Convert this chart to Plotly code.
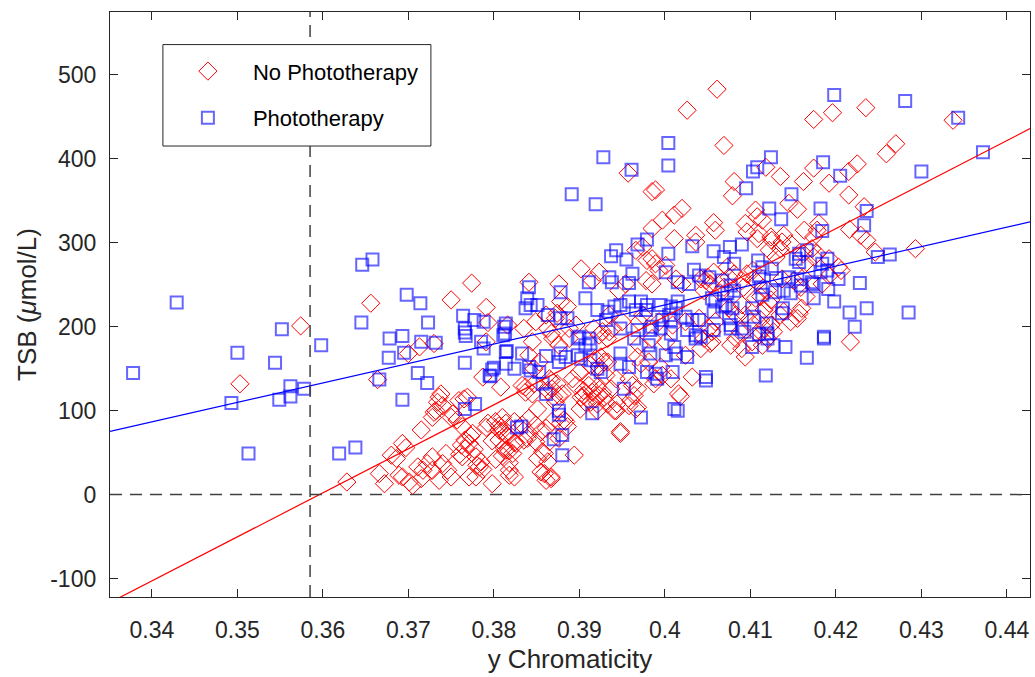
import plotly.graph_objects as go

# ---------------- data ----------------
# No Phototherapy (red diamonds)
x_nopt = [0.3574,0.3503,0.3628,0.3664,0.3656,0.3750,0.3774,0.3791,0.3793,0.3816,0.3700,0.3713,0.3730,0.3787,0.3791,0.3808,
0.3666,0.3672,0.3686,0.3693,0.3697,0.3693,0.3705,0.3715,0.3711,0.3717,0.3722,0.3715,0.3728,0.3732,0.3736,0.3738,0.3728,0.3750,
0.3740,0.3746,0.3750,0.3736,0.3744,0.3728,0.3762,0.3766,0.3771,0.3767,0.3763,0.3775,0.3759,0.3765,0.3769,0.3771,0.3779,0.3785,
0.3783,0.3798,0.3793,0.3802,0.3806,0.3810,0.3814,0.3816,0.3806,0.3814,0.3822,0.3818,0.3734,0.3740,0.3730,0.3752,0.3757,0.3763,
0.3680,0.3689,0.3701,0.3773,0.3777,0.3760,0.3780,0.3787,0.3779,0.3818,0.3791,0.3806,0.3810,0.3814,0.3798,0.3812,0.3818,0.3810,
0.3802,0.3818,0.3824,0.3824,
0.3867,0.3869,0.3845,0.3841,0.3853,0.3847,0.3837,0.3845,0.3833,0.3865,0.3868,0.3876,0.3872,0.3880,0.3851,0.3841,0.3833,0.3849,
0.3855,0.3839,0.3849,0.3861,0.3868,0.3884,0.3865,0.3876,0.3851,0.3859,0.3863,0.3855,0.3867,0.3861,0.3894,0.3892,0.3900,0.3896,
0.3905,0.3907,0.3901,0.3911,0.3915,0.3919,0.3923,0.3913,0.3921,0.3927,0.3913,0.3919,0.3923,0.3931,0.3929,0.3923,0.3927,0.3917,
0.3933,0.3935,0.3939,0.3943,0.3937,0.3943,0.3948,0.3958,0.3966,0.3958,0.3962,0.3968,0.3964,0.3981,0.3989,0.3997,0.4016,0.4024,
0.4032,0.4042,0.4046,0.3935,0.3950,0.3970,0.3974,0.3993,0.4009,0.4024,0.4040,0.3970,0.3985,0.4001,0.3888,0.3896,0.3876,0.3888,
0.3849,0.3861,0.3872,
0.4026,0.3957,0.3985,0.3989,0.4020,0.4011,0.3997,0.3985,0.4011,0.4036,0.4036,0.3974,0.3966,0.3989,0.4001,0.3993,0.3978,0.3985,
0.3902,0.3923,0.3915,0.3954,0.3946,0.3841,0.3876,0.4013,0.4020,0.4048,0.4046,
0.4061,0.4069,0.4174,0.4196,0.4235,0.4337,0.4259,0.4270,0.4225,0.4215,0.4174,0.4162,0.4192,0.4118,0.4135,0.4081,0.4079,0.4155,
0.4145,0.4215,0.4233,0.4216,0.4236,0.4246,0.4293,0.4440,0.4057,0.4059,0.4094,0.4108,0.4114,0.4096,0.4163,0.4178,0.4108,0.4125,
0.4135,0.4139,0.4147,0.4162,0.4172,0.4178,0.4229,0.4203,0.4192,0.4162,0.4151,0.4137,0.4157,0.4147,0.4165,0.4159,0.4124,0.4112,
0.4120,0.4092,0.4104,0.4096,0.4081,0.4073,0.4057,0.4053,0.4065,0.4069,0.4112,0.4116,0.4124,0.3985,0.3979,0.4042,0.4050,0.3878,
0.3886,0.3874,0.3863,0.3835,
0.4106,0.4110,0.4124,0.4137,0.4174,0.4180,0.4103,0.4122,0.4130,0.4174,0.4164,0.4206,0.4192,0.4184,0.4106,0.4090,0.4075,
0.4217,0.4155,0.4160,0.4139,0.4135,0.4122,0.4116,0.4106,0.4094,0.4090,0.4102,0.4110,0.4114,0.4077,0.4083,0.4088,0.4055,0.4055,
0.4052,0.4059,0.4090,0.4094,0.4100,0.4075,0.4083,0.4120,0.4127,
0.3948,0.4018,0.4053,0.3867,0.3859,0.3857,0.3835,0.3841,0.3824,0.3826,0.3837,0.3847,0.3863,0.3870,0.3874,0.3867,0.3882,0.3886,
0.3878,0.3902,0.3905,0.3913,0.3921,0.3921,0.3929,0.3933,0.3941,0.3944,0.3960,0.3968,0.3987,0.4007,0.3995,0.3925,0.3933,0.3968,
0.3972]
y_nopt = [201,132,15,137,228,232,252,223,205,202,168,176,180,140,182,128,
25,13,43,61,56,21,11,77,33,29,37,19,29,100,116,120,92,92,
37,29,21,17,49,45,59,65,61,55,45,73,112,114,116,21,45,39,
33,13,85,87,77,92,85,69,65,53,49,29,110,106,98,96,89,81,
47,23,15,70,54,48,35,30,21,23,80,82,76,72,64,56,52,46,
42,38,62,87,
192,186,182,166,158,150,122,120,130,138,126,118,110,120,102,91,83,83,
75,67,63,79,87,87,63,67,43,49,39,27,21,17,47,138,146,130,
118,110,102,130,122,114,118,110,108,122,154,162,152,142,158,190,194,198,
186,194,198,138,126,100,75,106,102,138,130,126,118,158,138,142,120,166,
140,174,186,214,206,206,214,206,202,206,210,178,186,182,198,202,178,186,
206,214,210,
458,383,361,363,341,333,327,317,305,309,301,295,291,275,273,267,255,251,
269,265,255,251,243,253,251,257,251,255,243,
483,416,447,455,461,446,406,418,394,385,389,373,371,390,379,373,356,340,
347,357,343,316,303,289,293,242,324,315,323,331,327,313,315,315,305,303,
293,309,299,287,293,287,309,271,281,259,255,257,216,206,236,247,232,236,
243,247,257,263,263,271,265,251,240,247,208,198,202,281,279,257,259,230,
224,216,198,198,
339,311,307,301,307,323,267,291,283,283,275,267,261,251,255,255,259,
182,210,222,218,214,228,220,234,164,174,182,190,178,178,186,194,182,194,
198,206,226,214,206,222,214,186,194,
73,117,180,19,25,51,65,73,21,61,128,132,124,116,132,136,89,81,
85,116,124,136,128,100,116,108,100,108,112,104,132,138,152,164,158,164,
156]

# Phototherapy (blue squares)
x_pt = [0.3378,0.3429,0.3552,0.3500,0.3544,0.3493,0.3549,0.3562,0.3562,0.3578,0.3513,0.3598,0.3619,0.3638,0.3666,0.3678,0.3677,
0.3693,0.3695,0.3693,0.3711,0.3722,0.3715,0.3732,0.3766,0.3766,0.3766,0.3778,0.3788,0.3795,0.3800,0.3814,0.3815,0.3824,0.3827,
0.3811,0.3646,0.3658,0.3645,0.3698,0.3714,0.3723,0.3764,0.3777,0.3788,0.3766,0.3813,0.3814,0.3785,0.3798,0.3796,0.3814,0.3812,
0.3767,
0.3928,0.4004,0.4004,0.3961,0.3891,0.3919,0.3943,0.3937,0.3955,0.3968,0.3979,0.4004,0.4032,0.4034,0.4040,0.3962,0.3935,0.3938,
0.3911,0.3958,0.3841,0.3878,0.4001,0.4015,0.4028,
0.4095,0.4103,0.4108,0.4124,0.4148,0.4122,0.4136,0.4182,0.4184,0.4185,0.4198,0.4205,0.4281,0.4343,0.4372,0.4300,0.4236,0.4233,
0.4263,0.4249,0.4228,0.4236,0.4216,0.4285,0.4222,0.4198,0.4191,0.4174,0.4174,0.4203,0.4186,0.4153,0.4157,0.4166,0.4190,0.4182,
0.4184,0.4138,0.4137,0.4119,0.4090,0.4076,0.4057,0.4069,0.4081,0.4109,0.4114,0.4125,0.3907,0.3839,0.3843,0.3851,0.3863,0.3878,
0.3886,0.3941,0.3948,0.3958,0.3921,0.3933,0.3972,0.3979,0.3995,0.4007,0.4015,0.3997,0.4007,0.4032,0.4040,0.4057,0.4067,0.4079,
0.4055,0.4073,0.4081,0.4102,0.4104,0.4114,0.4112,0.4129,0.4139,0.4147,0.4159,0.4057,0.4077,0.4093,0.4120,0.4036,0.4026,0.3983,
0.3995,0.4007,0.3948,0.3968,
0.3833,0.3843,0.3853,0.3857,0.3861,0.3876,0.3876,0.3832,0.3870,0.3880,0.3880,0.3861,0.3878,0.3884,0.3902,0.3913,0.3921,0.3925,
0.3898,0.3913,0.3915,0.3948,0.3948,0.3952,0.3958,0.3964,0.3972,0.3979,0.3989,0.3991,0.3983,0.3981,0.4001,0.4011,0.4009,0.4013,
0.4011,0.4015,0.4026,0.4036,0.4048,0.4048,0.4102,0.4120,0.4127,0.4141,0.4118,0.4166,0.4186,0.4110,0.4077,0.4090,0.4059,0.4071,
0.4075,0.3898,0.3900,0.3911,0.3907,0.3876,0.3837,0.3966,0.3978,0.4005,0.4013,0.4024,0.4042,0.3931,0.3985,0.3841,
0.4110,0.4130,0.4157,0.4145,0.4155,0.4172,0.4190,0.4052,0.4067,0.4077]
y_pt = [145,229,197,169,157,109,113,129,117,126,49,178,49,56,137,186,163,
189,169,113,145,133,182,181,157,193,102,108,174,142,151,156,171,150,80,
190,274,280,205,238,228,205,213,208,206,198,192,204,182,149,141,170,200,
189,
402,419,392,387,358,346,291,284,280,298,304,287,296,268,261,263,259,253,
253,252,247,241,265,253,251,
365,385,390,402,358,341,328,341,314,396,476,380,469,449,408,385,338,321,
286,283,252,222,217,217,200,230,245,251,234,257,188,281,287,291,281,265,
275,222,216,204,298,295,290,283,275,279,271,269,234,234,226,226,214,210,
210,224,226,230,220,218,230,226,226,224,230,208,208,208,208,218,224,222,
234,240,243,222,212,238,247,241,243,240,249,196,198,194,192,190,196,196,
198,192,198,196,
168,148,146,132,120,100,95,81,66,71,47,165,168,164,162,160,150,146,
186,180,97,168,156,126,152,186,92,146,144,138,168,178,166,176,146,168,
102,100,164,186,140,136,176,186,178,176,142,163,186,191,202,198,230,226,
210,166,188,186,178,158,222,220,220,214,222,212,188,208,200,152,
260,258,277,259,257,253,267,259,255,249]

# least-squares fit coefficients (TSB = slope * y + intercept)
fit_nopt_slope, fit_nopt_intercept = 5247.0, -1886.8
fit_pt_slope, fit_pt_intercept = 2319.0, -701.7

# x-axis range and reference lines
x_range = [0.3351, 0.4427]
y_range = [-122, 575]
y_threshold = 0.3585   # vertical dashed line (TSB fit = 0 crossing)

x_ticks = [0.34, 0.35, 0.36, 0.37, 0.38, 0.39, 0.40, 0.41, 0.42, 0.43, 0.44]
x_ticklabels = ["0.34", "0.35", "0.36", "0.37", "0.38", "0.39", "0.4", "0.41", "0.42", "0.43", "0.44"]
y_ticks = [-100, 0, 100, 200, 300, 400, 500]
y_ticklabels = ["-100", "0", "100", "200", "300", "400", "500"]

FONT = "Liberation Sans, Arial, Helvetica, sans-serif"
TXT = "#262626"

fig = go.Figure()

fig.add_trace(go.Scatter(
    x=x_nopt, y=y_nopt, mode="markers", name="No Phototherapy", legendgroup="a",
    marker=dict(symbol="diamond-open", size=14, color="#ff0000", line=dict(width=1, color="#ff0000")),
))
fig.add_trace(go.Scatter(
    x=x_pt, y=y_pt, mode="markers", name="Phototherapy", legendgroup="b",
    marker=dict(symbol="square-open", size=12, color="rgba(0,0,255,0.6)", line=dict(width=2, color="rgba(0,0,255,0.6)")),
))

fig.add_trace(go.Scatter(
    x=x_range, y=[fit_nopt_slope * v + fit_nopt_intercept for v in x_range],
    mode="lines", line=dict(color="#ff0000", width=1.2), showlegend=False, hoverinfo="skip",
))
fig.add_trace(go.Scatter(
    x=x_range, y=[fit_pt_slope * v + fit_pt_intercept for v in x_range],
    mode="lines", line=dict(color="#0000ff", width=1.2), showlegend=False, hoverinfo="skip",
))

# dashed reference lines
fig.add_shape(type="line", xref="x", yref="paper", x0=y_threshold, x1=y_threshold, y0=0, y1=1,
              line=dict(color="#404040", width=1.5, dash="12px,8px"), layer="above")
fig.add_shape(type="line", xref="paper", yref="y", x0=0, x1=1, y0=0, y1=0,
              line=dict(color="#404040", width=1.5, dash="12px,8px"), layer="above")
# legend box
fig.add_shape(type="rect", xref="paper", yref="paper", x0=0.0575, x1=0.3488, y0=0.7709, y1=0.9443,
              line=dict(color="#262626", width=1), fillcolor="white", layer="above")

axis_common = dict(
    showline=True, linecolor=TXT, linewidth=1.3, mirror="ticks",
    ticks="inside", ticklen=8, tickwidth=1.3, tickcolor=TXT,
    showgrid=False, zeroline=False,
    tickfont=dict(family=FONT, size=23, color=TXT),
)

fig.update_xaxes(
    range=x_range, tickvals=x_ticks, ticktext=x_ticklabels, ticklabelstandoff=12,
    title=dict(text="y Chromaticity", font=dict(family=FONT, size=26, color=TXT), standoff=8),
    **axis_common,
)
fig.update_yaxes(
    range=y_range, tickvals=y_ticks, ticktext=y_ticklabels, ticklabelstandoff=8,
    title=dict(text="TSB (<i>μ</i>mol/L)", font=dict(family=FONT, size=26, color=TXT), standoff=6),
    **axis_common,
)

fig.update_layout(
    width=1035, height=677,
    margin=dict(l=110.3, r=3.3, t=11.7, b=80.3),
    paper_bgcolor="white", plot_bgcolor="white",
    showlegend=True,
    legend=dict(
        x=0.0575, y=0.9345, xanchor="left", yanchor="top",
        bgcolor="rgba(0,0,0,0)", borderwidth=0,
        font=dict(family=FONT, size=22, color="black"),
        itemwidth=80, tracegroupgap=15, traceorder="grouped",
    ),
)

fig.write_html("out.html")
